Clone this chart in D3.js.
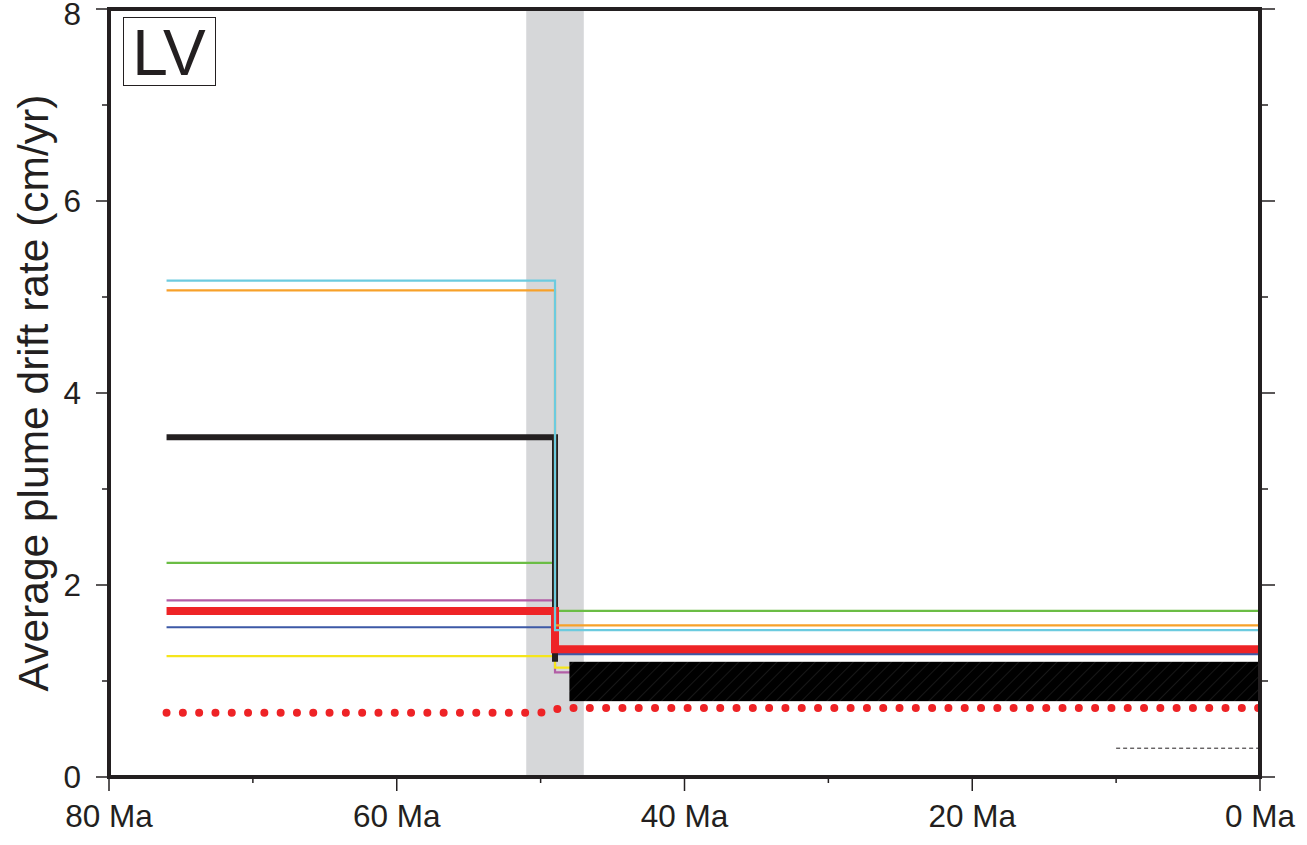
<!DOCTYPE html>
<html>
<head>
<meta charset="utf-8">
<script src="https://cdn.jsdelivr.net/npm/d3@7"></script>
<style>
  html, body { margin: 0; padding: 0; background: #fff; }
  svg { display: block; font-family: "Liberation Sans", Arial, Helvetica, sans-serif; }
</style>
</head>
<body>
<svg id="chart" width="1307" height="845"></svg>
<script>
// Average plume drift rate through time, LV hotspot
const xDomain = [80, 0];          // Ma
const yDomain = [0, 8];           // cm/yr
const xMajorTicks = [80, 60, 40, 20, 0];
const xMinorTicks = [70, 50, 30, 10];
const yMajorTicks = [0, 2, 4, 6, 8];
const yMinorTicks = [1, 3, 5, 7];
const xTickLabels = ["80 Ma", "60 Ma", "40 Ma", "20 Ma", "0 Ma"];
const yTickLabels = ["0", "2", "4", "6", "8"];

// shaded age interval
const bandAges = [51, 47];

// stepped drift-rate models: start age, step age, rate before / after the step
const modelNames  = ["cyan", "orange", "green", "purple", "blue", "yellow", "black", "red"];
const startAge = 76;
const stepAge = 49;
const rateBefore = [5.17, 5.07, 2.23, 1.84, 1.56, 1.26, 3.54, 1.73];
const rateAfter  = [1.53, 1.58, 1.73, 1.09, 1.28, 1.14, 1.20, 1.33];

// range shown as a hatched block after the step
const rangeAges = [48, 0];
const rangeRates = [0.79, 1.20];

// dotted model
const dottedAges  = [76, 50, 48.5, 0];
const dottedRates = [0.67, 0.67, 0.72, 0.72];

// dashed reference
const dashedAges = [10, 0];
const dashedRates = [0.30, 0.30];

const styles = {
  cyan:   { color: "#6ccbdf", width: 2.2 },
  orange: { color: "#f7a12a", width: 2.2 },
  green:  { color: "#6bbd45", width: 2.2 },
  purple: { color: "#b25ea6", width: 2.2 },
  blue:   { color: "#3d59a6", width: 2.2 },
  yellow: { color: "#f5e51c", width: 2.2 },
  black:  { color: "#231f20", width: 6 },
  red:    { color: "#ee2326", width: 8 }
};

const svg = d3.select("#chart");
const plotLeft = 109, plotRight = 1260, plotTop = 9, plotBottom = 777;

const x = d3.scaleLinear().domain(xDomain).range([plotLeft, plotRight]);
const y = d3.scaleLinear().domain(yDomain).range([plotBottom, plotTop]);

// hatch pattern for the range block
const defs = svg.append("defs");
const pat = defs.append("pattern")
  .attr("id", "hatch").attr("patternUnits", "userSpaceOnUse")
  .attr("width", 9).attr("height", 9)
  .attr("patternTransform", "rotate(45)");
pat.append("rect").attr("width", 9).attr("height", 9).attr("fill", "#000");
pat.append("line").attr("x1", 0).attr("y1", 0).attr("x2", 0).attr("y2", 9)
  .attr("stroke", "#3a3a3a").attr("stroke-width", 0.8);

const clip = defs.append("clipPath").attr("id", "plotclip");
clip.append("rect").attr("x", plotLeft).attr("y", plotTop)
  .attr("width", plotRight - plotLeft).attr("height", plotBottom - plotTop);

// grey interval band
svg.append("rect")
  .attr("x", x(bandAges[0])).attr("y", plotTop)
  .attr("width", x(bandAges[1]) - x(bandAges[0]))
  .attr("height", plotBottom - plotTop)
  .attr("fill", "#d6d7d9");

const g = svg.append("g").attr("clip-path", "url(#plotclip)");
const line = d3.line().x(d => x(d[0])).y(d => y(d[1])).curve(d3.curveLinear);

// draw order: thin lines under, thick models on top
const drawOrder = ["green", "purple", "blue", "yellow", "black", "red", "orange", "cyan"];
drawOrder.forEach(name => {
  const i = modelNames.indexOf(name);
  const s = styles[name];
  const pts = name === "black"
    ? [[startAge, rateBefore[i]], [stepAge, rateBefore[i]], [stepAge, rateAfter[i]]]
    : [[startAge, rateBefore[i]], [stepAge, rateBefore[i]], [stepAge, rateAfter[i]], [0, rateAfter[i]]];
  g.append("path")
    .attr("d", line(pts))
    .attr("fill", "none")
    .attr("stroke", s.color)
    .attr("stroke-width", s.width)
    .attr("stroke-linejoin", "miter");
});

// hatched range block
g.append("rect")
  .attr("x", x(rangeAges[0])).attr("y", y(rangeRates[1]))
  .attr("width", x(rangeAges[1]) - x(rangeAges[0]))
  .attr("height", y(rangeRates[0]) - y(rangeRates[1]))
  .attr("fill", "url(#hatch)");

// dotted model
g.append("path")
  .attr("d", line(dottedAges.map((a, i) => [a, dottedRates[i]])))
  .attr("fill", "none")
  .attr("stroke", "#ee2326")
  .attr("stroke-width", 8)
  .attr("stroke-linecap", "round")
  .attr("stroke-dasharray", "0 16.3");

// dashed reference
g.append("path")
  .attr("d", line(dashedAges.map((a, i) => [a, dashedRates[i]])))
  .attr("fill", "none")
  .attr("stroke", "#231f20")
  .attr("stroke-width", 1)
  .attr("stroke-dasharray", "4 3");

// ticks
const tickColor = "#231f20";
const ticks = svg.append("g").attr("stroke", tickColor).attr("stroke-width", 1.5);
xMajorTicks.forEach(v => ticks.append("line").attr("x1", x(v)).attr("x2", x(v)).attr("y1", plotBottom).attr("y2", plotBottom + 14));
xMinorTicks.forEach(v => ticks.append("line").attr("x1", x(v)).attr("x2", x(v)).attr("y1", plotBottom).attr("y2", plotBottom + 6));
yMajorTicks.forEach(v => {
  ticks.append("line").attr("x1", plotLeft - 13).attr("x2", plotLeft).attr("y1", y(v)).attr("y2", y(v));
  ticks.append("line").attr("x1", plotRight).attr("x2", plotRight + 15).attr("y1", y(v)).attr("y2", y(v));
});
yMinorTicks.forEach(v => {
  ticks.append("line").attr("x1", plotLeft - 7).attr("x2", plotLeft).attr("y1", y(v)).attr("y2", y(v));
  ticks.append("line").attr("x1", plotRight).attr("x2", plotRight + 8).attr("y1", y(v)).attr("y2", y(v));
});

// frame
svg.append("rect")
  .attr("x", plotLeft).attr("y", plotTop)
  .attr("width", plotRight - plotLeft).attr("height", plotBottom - plotTop)
  .attr("fill", "none").attr("stroke", "#231f20").attr("stroke-width", 4);

// tick labels
svg.append("g").selectAll("text").data(xMajorTicks).join("text")
  .attr("x", d => x(d)).attr("y", 827)
  .attr("text-anchor", "middle")
  .attr("font-size", 31.5).attr("fill", "#231f20")
  .text((d, i) => xTickLabels[i]);

// the top label is nudged down so it stays inside the page
svg.append("g").selectAll("text").data(yMajorTicks).join("text")
  .attr("x", 81).attr("y", d => Math.max(y(d) + 11, 25))
  .attr("text-anchor", "end")
  .attr("font-size", 31.5).attr("fill", "#231f20")
  .text((d, i) => yTickLabels[i]);

// axis title
svg.append("text")
  .attr("transform", `translate(48,${(plotTop + plotBottom) / 2}) rotate(-90)`)
  .attr("text-anchor", "middle")
  .attr("font-size", 42.5).attr("fill", "#231f20")
  .text("Average plume drift rate (cm/yr)");

// panel label
svg.append("rect")
  .attr("x", 123.5).attr("y", 17.5).attr("width", 92).attr("height", 68)
  .attr("fill", "#fff").attr("stroke", "#231f20").attr("stroke-width", 1);
svg.append("text")
  .attr("x", 169).attr("y", 75)
  .attr("text-anchor", "middle")
  .attr("font-size", 64).attr("fill", "#231f20")
  .text("LV");
</script>
</body>
</html>
